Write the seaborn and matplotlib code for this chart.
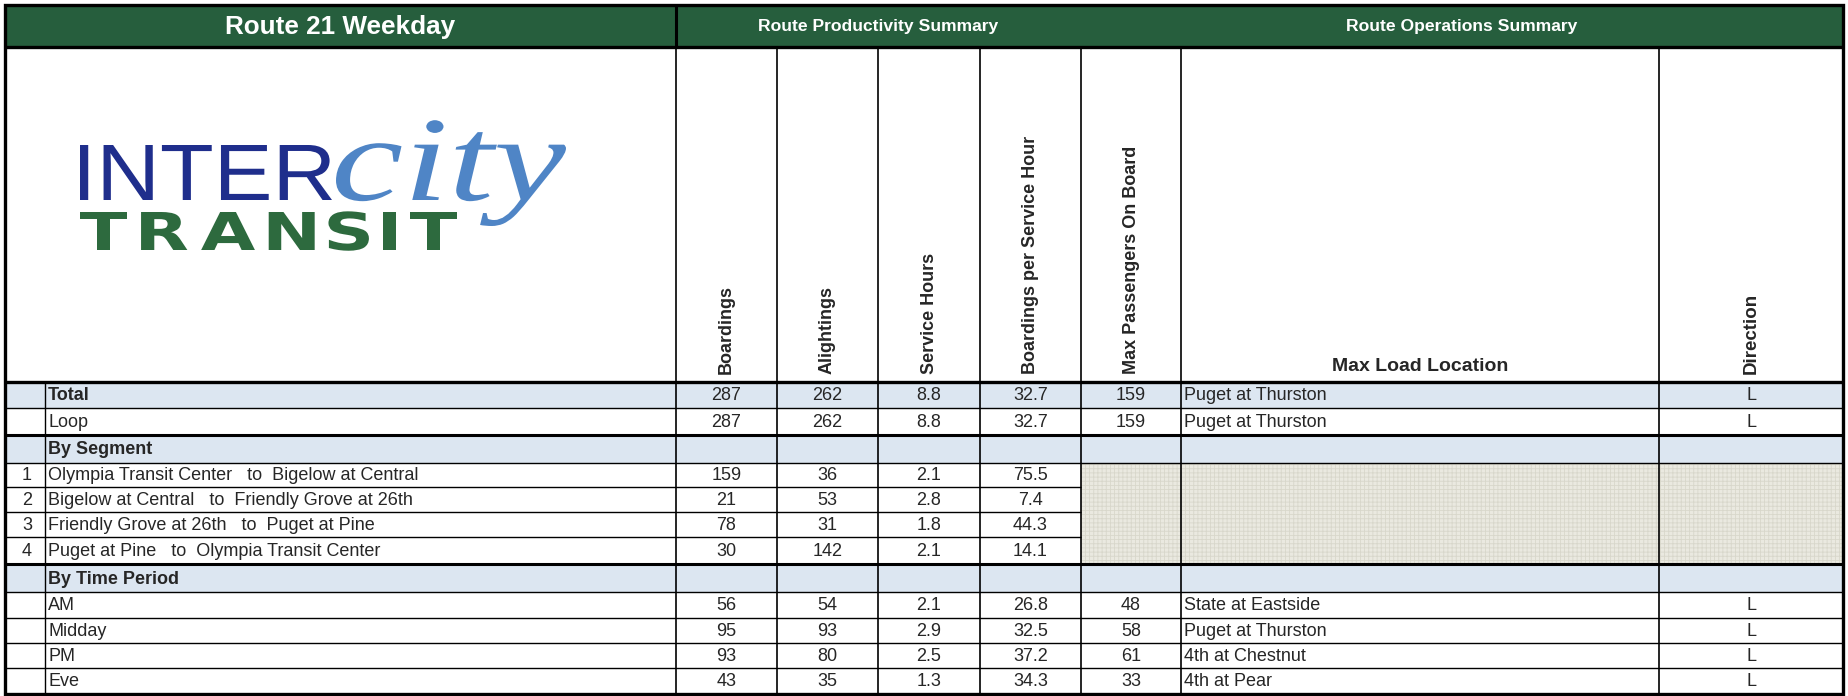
import matplotlib
matplotlib.use("Agg")
import matplotlib.pyplot as plt
from matplotlib.patches import Rectangle, PathPatch
from matplotlib.textpath import TextPath
from matplotlib.font_manager import FontProperties
from matplotlib.transforms import Affine2D
import seaborn as sns
import pandas as pd

# ---------------- data ----------------
row_labels = ["Total", "Loop", "By Segment",
              "Olympia Transit Center   to  Bigelow at Central",
              "Bigelow at Central   to  Friendly Grove at 26th",
              "Friendly Grove at 26th   to  Puget at Pine",
              "Puget at Pine   to  Olympia Transit Center",
              "By Time Period", "AM", "Midday", "PM", "Eve"]
row_nums = ["", "", "", "1", "2", "3", "4", "", "", "", "", ""]
row_kind = ["total", "plain", "section", "seg", "seg", "seg", "seg",
            "section", "plain", "plain", "plain", "plain"]
boardings = [287, 287, None, 159, 21, 78, 30, None, 56, 95, 93, 43]
alightings = [262, 262, None, 36, 53, 31, 142, None, 54, 93, 80, 35]
service_hours = [8.8, 8.8, None, 2.1, 2.8, 1.8, 2.1, None, 2.1, 2.9, 2.5, 1.3]
boardings_per_hour = [32.7, 32.7, None, 75.5, 7.4, 44.3, 14.1, None, 26.8, 32.5, 37.2, 34.3]
max_passengers = [159, 159, None, None, None, None, None, None, 48, 58, 61, 33]
max_load_location = ["Puget at Thurston", "Puget at Thurston", "", "", "", "", "", "",
                     "State at Eastside", "Puget at Thurston", "4th at Chestnut", "4th at Pear"]
direction = ["L", "L", "", "", "", "", "", "", "L", "L", "L", "L"]

col_headers = ["Boardings", "Alightings", "Service Hours",
               "Boardings per Service Hour", "Max Passengers On Board"]
title = "Route 21 Weekday"
group_titles = ["Route Productivity Summary", "Route Operations Summary"]
logo_words = ["INTER", "city", "TRANSIT"]

df = pd.DataFrame({"label": row_labels, "num": row_nums, "kind": row_kind,
                   "b": boardings, "a": alightings, "sh": service_hours,
                   "bph": boardings_per_hour, "mp": max_passengers,
                   "loc": max_load_location, "dir": direction})

# ---------------- layout (pixel grid) ----------------
W, H = 1849, 696
xe = [5, 45, 676, 777, 878, 980, 1081, 1181, 1659, 1843]
ye = [382, 408, 435, 463, 487, 512, 537, 564, 592, 618, 643, 668, 694]
top, band_bot = 5, 47

GREEN = "#265E3D"
BLUE = "#DCE6F1"
BEIGE = "#EAE9E0"
FS = 13

sns.set_theme(style="white")
plt.rcParams["font.family"] = ["Liberation Sans", "DejaVu Sans"]

fig = plt.figure(figsize=(W / 100, H / 100), dpi=100)
ax = fig.add_axes([0, 0, 1, 1])
ax.set_xlim(0, W)
ax.set_ylim(H, 0)
ax.axis("off")


def hline(y, x0, x1, lw):
    ax.plot([x0, x1], [y, y], color="black", lw=lw, solid_capstyle="butt", zorder=5)


def vline(x, y0, y1, lw):
    ax.plot([x, x], [y0, y1], color="black", lw=lw, solid_capstyle="butt", zorder=5)


def stretched_word(word, prop, x0, x1, baseline, ref_char_h, color, gap=None):
    """Draw word as glyph paths spanning x0..x1, scaled so ref height matches."""
    paths = [TextPath((0, 0), ch, size=1, prop=prop) for ch in word]
    exts = [p.get_extents() for p in paths]
    widths = [e.x1 - e.x0 for e in exts]
    hpath = TextPath((0, 0), ref_char_h[0], size=1, prop=prop).get_extents()
    sy = ref_char_h[1] / (hpath.y1 - hpath.y0)
    if gap is None:
        whole = TextPath((0, 0), word, size=1, prop=prop)
        we = whole.get_extents()
        sx = (x1 - x0) / (we.x1 - we.x0)
        tr = Affine2D().translate(-we.x0, 0).scale(sx, -sy).translate(x0, baseline) + ax.transData
        ax.add_patch(PathPatch(whole, facecolor=color, edgecolor="none", transform=tr, zorder=6))
        return
    sx = sy * gap[0]
    total = sum(widths) * sx
    g = (x1 - x0 - total) / (len(word) - 1)
    cur = x0
    for p, e, w in zip(paths, exts, widths):
        tr = Affine2D().translate(-e.x0, 0).scale(sx, -sy).translate(cur, baseline) + ax.transData
        ax.add_patch(PathPatch(p, facecolor=color, edgecolor="none", transform=tr, zorder=6))
        cur += w * sx + g


# header band
ax.add_patch(Rectangle((xe[0], top), xe[-1] - xe[0], band_bot - top, facecolor=GREEN, edgecolor="none", zorder=1))
ax.text((xe[0] + xe[2]) / 2, (top + band_bot) / 2 + 1, title, color="white", fontsize=18.8,
        fontweight="bold", ha="center", va="center", zorder=6)
ax.text((xe[2] + xe[6]) / 2, (top + band_bot) / 2 + 1, group_titles[0], color="white", fontsize=12.6,
        fontweight="bold", ha="center", va="center", zorder=6)
ax.text((xe[6] + xe[-1]) / 2, (top + band_bot) / 2 + 1, group_titles[1], color="white", fontsize=12.6,
        fontweight="bold", ha="center", va="center", zorder=6)

# rotated column headers
for i, h in enumerate(col_headers):
    cx = (xe[2 + i] + xe[3 + i]) / 2
    ax.text(cx, ye[0] - 8, h, rotation=90, fontsize=13, fontweight="bold",
            ha="center", va="bottom", zorder=6)
ax.text((xe[7] + xe[8]) / 2, ye[0] - 7, "Max Load Location", fontsize=14, fontweight="bold",
        ha="center", va="bottom", zorder=6)
ax.text((xe[8] + xe[9]) / 2, ye[0] - 8, "Direction", rotation=90, fontsize=13.5, fontweight="bold",
        ha="center", va="bottom", zorder=6)

# logo (drawn as glyph outlines)
sans = FontProperties(family="Liberation Sans")
sans_bold = FontProperties(family="DejaVu Sans", weight="bold")
serif_it = FontProperties(family="Liberation Serif", style="italic")
stretched_word(logo_words[0], sans, 80, 332, 200, ("I", 55), "#1F2E8C")
stretched_word(logo_words[1], serif_it, 336, 566, 200, ("c", 58), "#4F85C6")
stretched_word(logo_words[2], sans_bold, 80, 457, 250, ("T", 38), "#2D6A3E", gap=(1.35,))

# body rows
vals_cols = ["b", "a", "sh", "bph", "mp"]
for r, row in df.iterrows():
    y0, y1 = ye[r], ye[r + 1]
    yc = (y0 + y1) / 2 + 1
    kind = row["kind"]
    if kind in ("total", "section"):
        ax.add_patch(Rectangle((xe[0], y0), xe[-1] - xe[0], y1 - y0, facecolor=BLUE,
                               edgecolor="none", zorder=1))
    bold = "bold" if kind in ("total", "section") else "normal"
    ax.text(xe[1] + 3, yc, row["label"], fontsize=FS, fontweight=bold, ha="left", va="center", zorder=6)
    if row["num"]:
        ax.text(xe[1] - 13, yc, row["num"], fontsize=FS, ha="right", va="center", zorder=6)
    for j, c in enumerate(vals_cols):
        v = row[c]
        if v is None or pd.isna(v):
            continue
        s = f"{v:.1f}" if c in ("sh", "bph") else f"{int(v)}"
        ax.text((xe[2 + j] + xe[3 + j]) / 2, yc, s, fontsize=FS, ha="center", va="center", zorder=6)
    if row["loc"]:
        ax.text(xe[7] + 3, yc, row["loc"], fontsize=FS, ha="left", va="center", zorder=6)
    if row["dir"]:
        ax.text((xe[8] + xe[9]) / 2, yc, row["dir"], fontsize=FS, ha="center", va="center", zorder=6)

# beige hatched block for segment rows (no operations data)
seg_rows = [i for i, k in enumerate(row_kind) if k == "seg"]
sy0, sy1 = ye[seg_rows[0]], ye[seg_rows[-1] + 1]
plt.rcParams["hatch.linewidth"] = 0.6
ax.add_patch(Rectangle((xe[6], sy0), xe[-1] - xe[6], sy1 - sy0, facecolor=BEIGE,
                       edgecolor="#D8D7CB", hatch="++++", lw=0, zorder=2))

# horizontal lines
for r in range(1, len(ye) - 1):
    y = ye[r]
    thick = y in (ye[2], ye[7])
    if ye[seg_rows[0]] < y < sy1:
        hline(y, xe[0], xe[6], 1.0)
    else:
        hline(y, xe[0], xe[-1], 2.2 if thick else 1.0)
hline(ye[0], xe[0], xe[-1], 2.4)
hline(band_bot, xe[0], xe[-1], 2.4)

# vertical lines
vline(xe[1], ye[0], ye[-1], 1.0)
for x in xe[2:-1]:
    vline(x, band_bot, ye[-1], 1.2)
vline(xe[2], top, band_bot, 2.2)

# outer border
ax.add_patch(Rectangle((xe[0], top), xe[-1] - xe[0], ye[-1] - top, facecolor="none",
                       edgecolor="black", lw=2.4, zorder=7))

fig.savefig("out.png", dpi=100, facecolor="white")
